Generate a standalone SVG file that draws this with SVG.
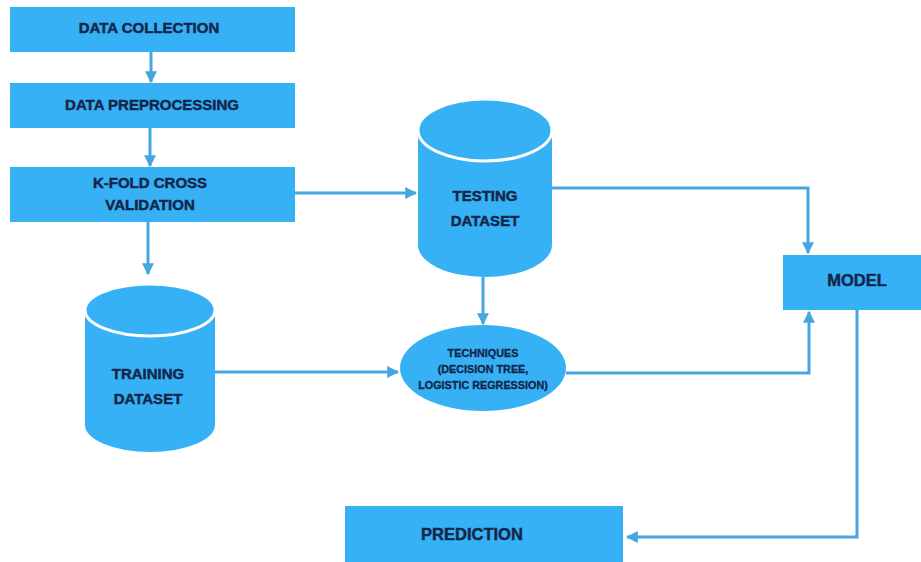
<svg xmlns="http://www.w3.org/2000/svg" width="921" height="562" viewBox="0 0 921 562">
  <defs>
    <marker id="arrow" viewBox="0 0 10 10" refX="9" refY="5" markerWidth="4" markerHeight="4" orient="auto-start-reverse" markerUnits="strokeWidth">
      <path d="M0,0 L10,5 L0,10 z" fill="#45a6e0"/>
    </marker>
    <style>
      .box { fill: #36b1f5; }
      .lbl { font-family: "Liberation Sans", Arial, sans-serif; font-weight: bold; fill: #13264a; stroke: #13264a; stroke-width: 0.45; text-anchor: middle; dominant-baseline: central; }
      .big { font-size: 15px; }
      .huge { font-size: 16.5px; }
      .small { font-size: 10.8px; stroke-width: 0.3; }
      .link { fill: none; stroke: #45a6e0; stroke-width: 3; marker-end: url(#arrow); }
      .cap { fill: #36b1f5; stroke: #ffffff; stroke-width: 3; }
    </style>
  </defs>
  <rect width="921" height="562" fill="#ffffff"/>

  <g id="connectors">
    <path class="link" d="M151,52 V82"/>
    <path class="link" d="M150,128 V166"/>
    <path class="link" d="M148,222 V274"/>
    <path class="link" d="M294,193 H416"/>
    <path class="link" d="M215,372 H398"/>
    <path class="link" d="M483,277 V324"/>
    <path class="link" d="M552,188 H808 V253"/>
    <path class="link" d="M566,373 H809 V312"/>
    <path class="link" d="M857,310 V537 H627"/>
  </g>

  <g id="data-collection">
    <rect class="box" x="10" y="7" width="285" height="45"/>
    <text class="lbl big" x="149" y="27">DATA COLLECTION</text>
  </g>

  <g id="data-preprocessing">
    <rect class="box" x="10" y="83" width="285" height="45"/>
    <text class="lbl big" x="152" y="104">DATA PREPROCESSING</text>
  </g>

  <g id="kfold">
    <rect class="box" x="10" y="167" width="285" height="55"/>
    <text class="lbl big" x="150" y="182">K-FOLD CROSS</text>
    <text class="lbl big" x="150" y="204">VALIDATION</text>
  </g>

  <g id="testing-dataset">
    <path class="box" d="M418,130 V245 A67,32 0 0 0 552,245 V130 z"/>
    <ellipse class="cap" cx="485" cy="130" rx="67" ry="31"/>
    <text class="lbl big" x="485" y="195">TESTING</text>
    <text class="lbl big" x="485" y="220">DATASET</text>
  </g>

  <g id="training-dataset">
    <path class="box" d="M85,310 V425 A65,27 0 0 0 215,425 V310 z"/>
    <ellipse class="cap" cx="150" cy="310" rx="65" ry="26"/>
    <text class="lbl big" x="148" y="373">TRAINING</text>
    <text class="lbl big" x="148" y="398">DATASET</text>
  </g>

  <g id="techniques">
    <ellipse class="box" cx="483" cy="368" rx="83" ry="43"/>
    <text class="lbl small" x="483" y="353">TECHNIQUES</text>
    <text class="lbl small" x="483" y="369">(DECISION TREE,</text>
    <text class="lbl small" x="483" y="385">LOGISTIC REGRESSION)</text>
  </g>

  <g id="model">
    <rect class="box" x="783" y="255" width="138" height="55"/>
    <text class="lbl huge" x="857" y="280">MODEL</text>
  </g>

  <g id="prediction">
    <rect class="box" x="345" y="506" width="278" height="56"/>
    <text class="lbl huge" x="472" y="534">PREDICTION</text>
  </g>
</svg>
